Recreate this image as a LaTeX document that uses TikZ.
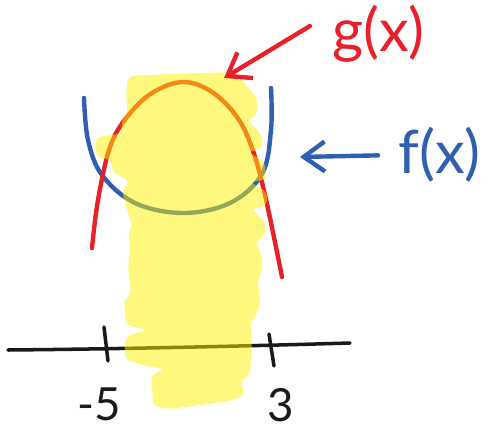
\documentclass[tikz,border=0pt]{standalone}
\usepackage{fontspec}
\setmainfont{Lato}
\usetikzlibrary{arrows.meta}
\definecolor{pen}{HTML}{1A1A1A}
\definecolor{gred}{HTML}{E8202A}
\definecolor{fblue}{HTML}{2E5FB0}
\definecolor{marker}{HTML}{FFF200}

\begin{document}
\begin{tikzpicture}[
    x=0.02cm, y=-0.02cm,
    every node/.style={inner sep=1pt},
    curve/.style={line width=2.5pt, line cap=round, line join=round},
    axis/.style={pen, line width=2pt, line cap=round},
    arr/.style={curve, -{Straight Barb[length=0.42cm, width=0.6cm, line width=2.5pt]}},
    lbl/.style={font=\fontsize{34}{34}\selectfont, anchor=west},
    num/.style={font=\fontsize{26}{26}\selectfont, text=pen},
    hl/.style={fill=marker, fill opacity=0.5, rounded corners=3pt}
  ]
    \useasboundingbox (0,0) rectangle (503,432);

    % number line
    \draw[axis] (8,350) .. controls (120,349) and (250,346) .. (350,343);
    \draw[axis] (104,327) -- (108,361);
    \draw[axis] (269,334) -- (274,366);
    \node[num] (m5) at (99,404) {-5};
    \node[num] (p3) at (281,405) {3};

    % f(x), blue U
    \draw[curve, fblue] plot[smooth, tension=0.6] coordinates {
      (84,98) (88,140) (102,175) (135,203) (183,213) (230,203) (262,174) (271,130) (271,88)};

    % g(x), red cap
    \draw[curve, gred] plot[smooth, tension=0.6] coordinates {
      (92,248) (98,200) (110,147) (127,117) (152,93) (183,82) (212,92) (237,117) (252,148) (265,195) (282,277)};

    % highlighted interval
    \fill[hl] (128,76) -- (170,74) -- (236,72) -- (242,80) -- (257,98) -- (257,116)
      -- (247,120) -- (262,135) -- (262,149) -- (248,152) -- (265,162) -- (266,180)
      -- (250,182) -- (267,192) -- (267,206) -- (251,209) -- (265,221) -- (265,236)
      -- (255,241) -- (262,256) -- (262,272) -- (257,282) -- (261,300) -- (255,318)
      -- (250,322) -- (252,340) -- (251,355) -- (250,375) -- (240,381) -- (245,395)
      -- (230,401) -- (170,409) -- (153,406) -- (152,386) -- (151,375) -- (165,369)
      -- (146,366) -- (126,360) -- (124,345) -- (128,335) -- (148,330) -- (126,325)
      -- (124,300) -- (131,294) -- (128,270) -- (130,245) -- (128,235) -- (132,225)
      -- (127,210) -- (122,192) -- (130,181) -- (112,172) -- (112,160) -- (96,157)
      -- (96,137) -- (121,134) -- (122,120) -- (128,112) -- (126,96) -- cycle;

    % labels with pointers
    \node[lbl, text=gred] (gx) at (330,34) {g(x)};
    \coordinate (gtip) at (224,78);
    \draw[arr, gred] ([shift={(-20,-8)}]gx.west) -- (gtip);

    \node[lbl, text=fblue] (fx) at (396,155) {f(x)};
    \coordinate (ftip) at (300,157);
    \draw[arr, fblue, shorten <=0.36cm] (fx.west) -- (ftip);
  \end{tikzpicture}
\end{document}
